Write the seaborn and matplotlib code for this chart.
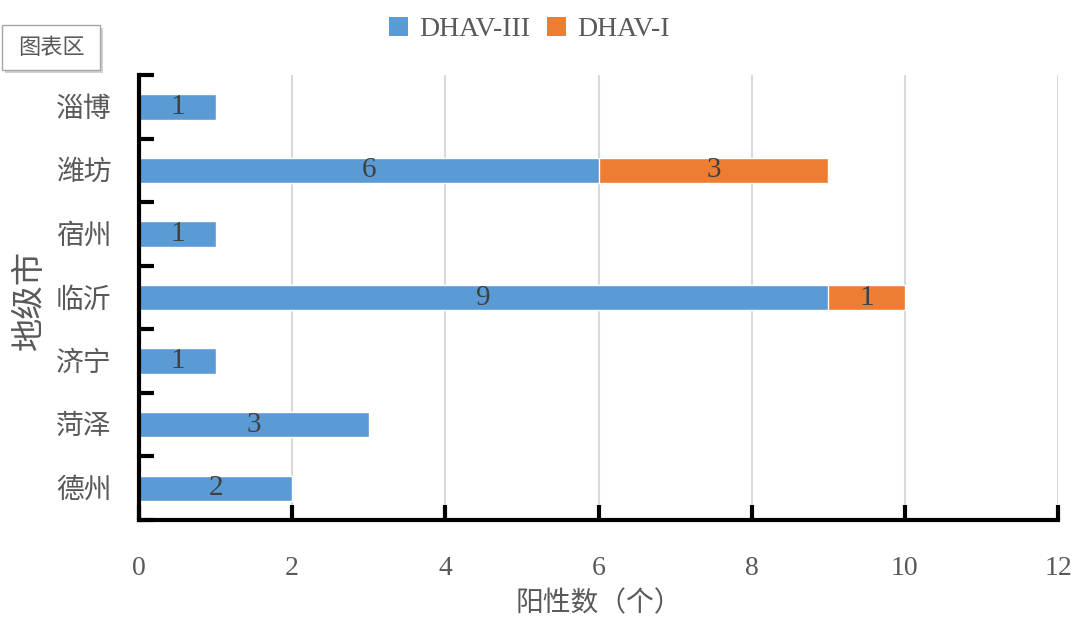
import matplotlib
matplotlib.use("Agg")
import matplotlib.pyplot as plt
import seaborn as sns
import pandas as pd
from matplotlib.patches import Patch, Rectangle

cities = ["淄博", "潍坊", "宿州", "临沂", "济宁", "菏泽", "德州"]
dhav3 = [1, 6, 1, 9, 1, 3, 2]
dhav1 = [0, 3, 0, 1, 0, 0, 0]
series_names = ["DHAV-III", "DHAV-I"]
xticks = [0, 2, 4, 6, 8, 10, 12]

sns.set_theme(style="white")
plt.rcParams['font.family'] = ['Liberation Serif', 'Noto Sans CJK SC', 'DejaVu Sans']

blue = "#5B9BD5"
orange = "#ED7D31"
txt = "#595959"

df = pd.DataFrame({"city": cities, "iii": dhav3, "i": dhav1})
df["total"] = df["iii"] + df["i"]

fig = plt.figure(figsize=(10.8, 6.4), dpi=100)
ax = fig.add_axes([139/1080, 1-520/640, (1058-139)/1080, (520-75)/640])

sns.barplot(data=df, y="city", x="total", color=orange, width=0.4, ax=ax,
            orient="h", saturation=1, order=cities)
sns.barplot(data=df, y="city", x="iii", color=blue, width=0.4, ax=ax,
            orient="h", saturation=1, order=cities)

for idx, row in df.iterrows():
    ax.text(row["iii"]/2, idx, str(row["iii"]), ha="center", va="center",
            fontsize=21, color="#404040")
    if row["i"] > 0:
        ax.text(row["iii"] + row["i"]/2, idx, str(row["i"]), ha="center",
                va="center", fontsize=21, color="#404040")

ax.set_xlim(0, 12)
ax.set_ylim(len(cities)-0.5, -0.5)
ax.set_xticks(xticks)
ax.set_xticklabels([str(v) for v in xticks])
ax.xaxis.grid(True, color="#D9D9D9", linewidth=1.5)
ax.set_axisbelow(True)
for s in ["top", "right"]:
    ax.spines[s].set_visible(False)
for s in ["left", "bottom"]:
    ax.spines[s].set_color("black")
    ax.spines[s].set_linewidth(3)

ax.tick_params(axis="x", direction="in", length=11, width=3, color="black",
               labelsize=20, labelcolor=txt, pad=26, bottom=True)
ax.set_yticks(range(len(cities)))
ax.set_yticklabels(cities)
ax.set_yticks([i - 0.5 for i in range(len(cities)+1)], minor=True)
ax.tick_params(axis="y", which="major", length=0, labelsize=20, labelcolor=txt, pad=20)
ax.tick_params(axis="y", which="minor", direction="in", length=11, width=3,
               color="black", left=True)

ax.set_xlabel("阳性数（个）", fontsize=20, color=txt)
ax.xaxis.set_label_coords(0.5, (520-591)/445)
ax.set_ylabel("地级市", fontsize=24, color=txt)
ax.yaxis.set_label_coords((46-139)/919, (520-300)/445)

handles = [Patch(facecolor=blue, edgecolor="none"), Patch(facecolor=orange, edgecolor="none")]
fig.legend(handles, series_names, loc="center", bbox_to_anchor=(0.49, 0.954),
           ncol=2, frameon=False, fontsize=20, handlelength=0.7, handleheight=0.7,
           handletextpad=0.4, columnspacing=0.6, labelcolor=txt)

# chart-area label box with shadow
fig.patches.append(Rectangle((5/1080, 1-73/640), 98/1080, 45/640, transform=fig.transFigure,
                             facecolor="#D0D0D0", edgecolor="none", zorder=1))
fig.patches.append(Rectangle((2/1080, 1-70/640), 98/1080, 45/640, transform=fig.transFigure,
                             facecolor="white", edgecolor="#A6A6A6", linewidth=1, zorder=2))
fig.text(51/1080, 1-47/640, "图表区", ha="center", va="center", fontsize=16,
         color=txt, family=["Noto Sans CJK SC", "DejaVu Sans"], zorder=3)

fig.savefig("out.png", dpi=100)
